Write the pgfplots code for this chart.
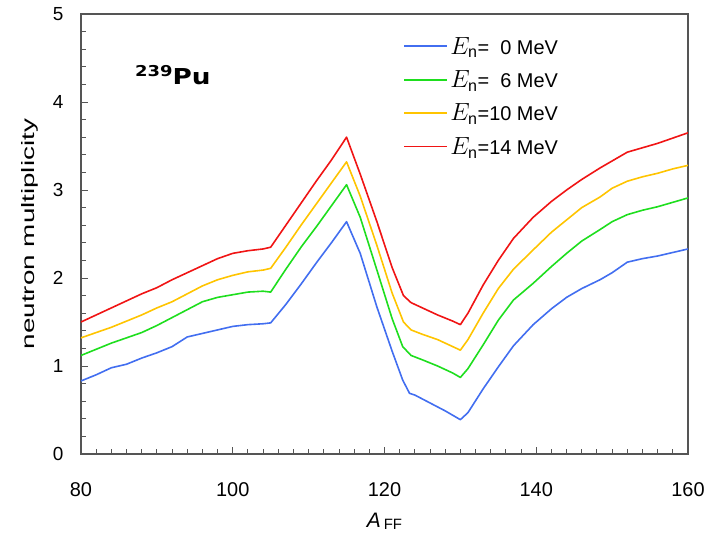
\documentclass[border=0pt]{standalone}
\usepackage{pgfplots}
\pgfplotsset{compat=1.18}
\usepackage{graphicx}
\usepackage{fontspec}
\setmainfont{Liberation Sans}
\newfontfamily\dejavu{DejaVu Sans}

\definecolor{cBlue}{RGB}{66,110,240}
\definecolor{cGreen}{RGB}{30,222,30}
\definecolor{cYellow}{RGB}{255,196,0}
\definecolor{cRed}{RGB}{240,20,20}
\definecolor{axisgray}{RGB}{85,85,85}

% neutron multiplicity vs fragment mass, 239Pu
\pgfplotstableread{
A     nu
80    0.83
82    0.90
84    0.98
86    1.02
88    1.09
90    1.15
92    1.22
94    1.33
96    1.37
98    1.41
100   1.45
102   1.47
104   1.48
105   1.49
107   1.70
109   1.93
111   2.17
113   2.40
115   2.64
116.8 2.28
119   1.67
121   1.17
122.4 0.84
123.3 0.69
124   0.67
126   0.58
128   0.49
130   0.39
131   0.47
133   0.74
135   0.99
137   1.23
139.6 1.47
142   1.65
144   1.78
146   1.88
148.4 1.98
150   2.06
152   2.18
154   2.22
156   2.25
158   2.29
160   2.33
}\tabZero

\pgfplotstableread{
A     nu
80    1.12
82    1.19
84    1.26
86    1.32
88    1.38
90    1.46
92    1.55
94    1.64
96    1.73
98    1.78
100   1.81
102   1.84
104   1.85
105   1.84
107   2.10
109   2.35
111   2.58
113   2.82
115   3.06
116.8 2.69
119   2.09
121   1.54
122.4 1.22
123.5 1.12
125   1.07
127   1.00
129   0.92
130   0.87
131   0.97
133   1.24
135   1.52
137   1.75
139.6 1.94
142   2.13
144   2.28
146   2.42
148.4 2.55
150   2.64
152   2.72
154   2.77
156   2.81
158   2.86
160   2.91
}\tabSix

\pgfplotstableread{
A     nu
80    1.32
82    1.38
84    1.44
86    1.51
88    1.58
90    1.66
92    1.73
94    1.82
96    1.91
98    1.98
100   2.03
102   2.07
104   2.09
105   2.11
107   2.35
109   2.60
111   2.84
113   3.08
115   3.32
116.8 2.93
119   2.37
121   1.83
122.5 1.50
123.5 1.41
125   1.36
127   1.30
129   1.22
130   1.18
131   1.30
133   1.60
135   1.88
137   2.10
139.6 2.32
142   2.52
144   2.66
146   2.80
148.4 2.92
150   3.02
152   3.10
154   3.15
156   3.19
158   3.24
160   3.28
}\tabTen

\pgfplotstableread{
A     nu
80    1.50
82    1.58
84    1.66
86    1.74
88    1.82
90    1.89
92    1.98
94    2.06
96    2.14
98    2.22
100   2.28
102   2.31
104   2.33
105   2.35
107   2.60
109   2.85
111   3.10
113   3.34
115   3.60
116.8 3.18
119   2.64
121   2.12
122.5 1.80
123.5 1.72
125   1.66
127   1.58
129   1.51
130   1.47
131   1.60
133   1.92
135   2.20
137   2.45
139.6 2.69
142   2.87
144   3.00
146   3.12
148.4 3.25
150   3.33
152   3.43
154   3.48
156   3.53
158   3.59
160   3.65
}\tabFourteen

\newcommand{\En}{{\fontsize{23}{25}\selectfont$E_{\mathrm{n}}$}}

\begin{document}
\begin{tikzpicture}
\begin{axis}[
  scale only axis,
  width=607bp, height=440bp,
  xmin=80, xmax=160, ymin=0, ymax=5,
  xtick={80,100,...,160}, ytick={0,1,...,5},
  minor x tick num=9, minor y tick num=4,
  xtick pos=bottom, ytick pos=left,
  tick align=inside,
  major tick length=7bp, minor tick length=5bp,
  axis line style={axisgray, line width=1.3bp},
  every tick/.style={axisgray, line width=0.9bp},
  /pgf/number format/assume math mode=true,
  xticklabel style={font=\fontsize{20}{22}\selectfont, yshift=-25bp},
  yticklabel style={font=\fontsize{19}{21}\selectfont, xshift=-14bp},
  xlabel={\fontsize{21}{24}\selectfont\textit{A}\hspace{3bp}\raisebox{-2bp}{\fontsize{15}{16}\selectfont FF}},
  xlabel style={at={(axis description cs:0.5,0)}, anchor=base, yshift=-73bp},
  ylabel={\scalebox{1.55}[1]{\fontsize{18}{20}\selectfont neutron multiplicity}},
  ylabel style={at={([xshift=-51bp]axis description cs:0,0.5)}, anchor=center},
  legend cell align=left,
  legend style={at={(rel axis cs:0.526,0.957)}, anchor=north west, draw=none, fill=none,
    font=\fontsize{20}{22}\selectfont, row sep=11bp,
    /tikz/every even column/.append style={column sep=2bp}},
  legend image code/.code={\draw[#1, line width=1.8bp] (0bp,0bp) -- (43bp,0bp);},
]
\addplot[color=cBlue, line width=1.6bp, line join=round] table[x=A, y=nu] {\tabZero};
\addlegendentry{\En=\hphantom{1}0 MeV}
\addplot[color=cGreen, line width=1.6bp, line join=round] table[x=A, y=nu] {\tabSix};
\addlegendentry{\En=\hphantom{1}6 MeV}
\addplot[color=cYellow, line width=1.6bp, line join=round] table[x=A, y=nu] {\tabTen};
\addlegendentry{\En=10 MeV}
\addplot[color=cRed, line width=1.6bp, line join=round] table[x=A, y=nu] {\tabFourteen};
\addlegendentry{\En=14 MeV}
\node[anchor=base west, inner sep=0pt] at (axis cs:87.1,4.2)
  {\dejavu\bfseries\scalebox{1.2}[1]{\raisebox{8bp}{\fontsize{15}{16}\selectfont 239}\fontsize{22}{24}\selectfont Pu}};
\end{axis}
\pgfresetboundingbox
\useasboundingbox (-81bp,-80bp) rectangle (635bp,454bp);
\end{tikzpicture}
\end{document}
